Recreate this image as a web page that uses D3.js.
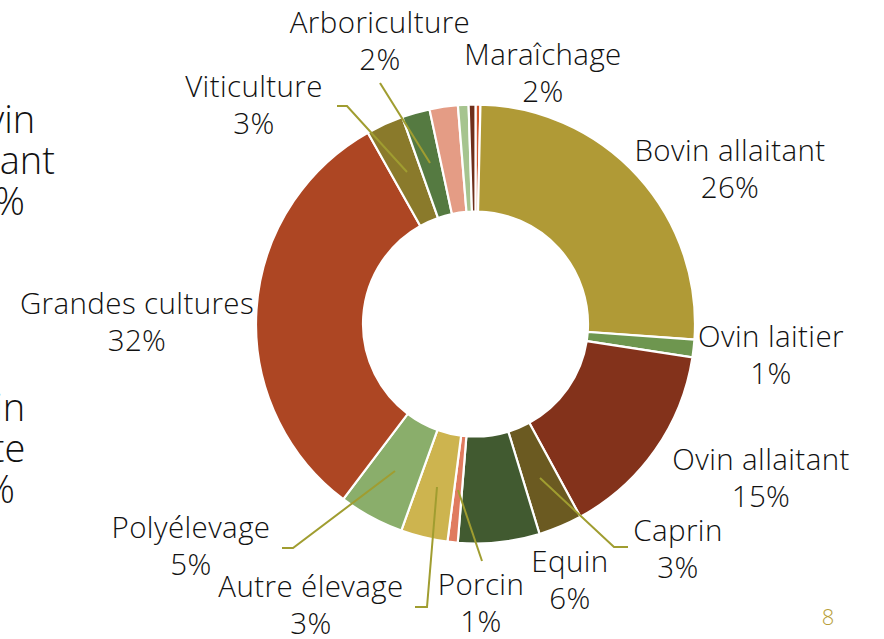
<!DOCTYPE html>
<html>
<head>
<meta charset="utf-8">
<script src="https://cdn.jsdelivr.net/npm/d3@7"></script>
<style>
  html, body { margin: 0; padding: 0; background: #fff; }
  svg { display: block; }
  text { font-family: "Open Sans", "Noto Sans", sans-serif; font-weight: 300; fill: #111; }
</style>
</head>
<body>
<svg id="chart" width="884" height="639"></svg>
<script>
// slices, clockwise from 12 o'clock (the tiny unlabelled ones carry no label)
const categories = ["Autres (a)", "Bovin allaitant", "Ovin laitier", "Ovin allaitant", "Caprin", "Equin",
  "Porcin", "Autre élevage", "Polyélevage", "Grandes cultures", "Viticulture",
  "Arboriculture", "Maraîchage", "Autres (b)", "Autres (c)"];
const values = [0.36, 25.77, 1.3, 14.64, 3.22, 6.0, 0.75, 3.45, 4.8, 31.55, 2.75, 2.05, 2.08, 0.78, 0.5];
const colors = ["#D2552B", "#B09A36", "#6E964F", "#83321B", "#6B5A21", "#415A30", "#E07B5F",
  "#CDB44F", "#8AAE6B", "#AD4623", "#8A7A2B", "#557A41", "#E49C85", "#A6C48F", "#6E2F1B"];

// cut-off labels of the previous chart at the left edge
const ghostLabels = [["Bovin", "allaitant", "19%"], ["Bovin", "mixte", "12%"]];

const svg = d3.select("#chart");
const cx = 475.5, cy = 324, rOuter = 219.5, rInner = 112.5;

const total = d3.sum(values);
const data = categories.map((c, i) => ({ name: c, value: values[i], color: colors[i] }));

const pie = d3.pie().sort(null).value(d => d.value);
const arc = d3.arc().innerRadius(rInner).outerRadius(rOuter);

const g = svg.append("g").attr("transform", `translate(${cx},${cy})`);
g.selectAll("path")
  .data(pie(data))
  .enter().append("path")
  .attr("d", arc)
  .attr("fill", d => d.data.color)
  .attr("stroke", "#fff")
  .attr("stroke-width", 2.2);

// label placement (page coords): text centre x, first baseline y, leader polyline
const labelPos = {
  "Bovin allaitant": { x: 730, y: 161 },
  "Ovin laitier": { x: 771, y: 347 },
  "Ovin allaitant": { x: 761, y: 470 },
  "Caprin": { x: 678, y: 541, line: [[540, 478], [614, 547], [628, 547]] },
  "Equin": { x: 570, y: 572 },
  "Porcin": { x: 481, y: 595, line: [[458, 490], [482, 561]] },
  "Autre élevage": { x: 311, y: 597, line: [[437, 487], [427, 607], [415, 607]] },
  "Polyélevage": { x: 191, y: 538, line: [[395, 471], [293, 548], [282, 548]] },
  "Grandes cultures": { x: 137, y: 314 },
  "Viticulture": { x: 254, y: 97, line: [[407, 172], [347, 106], [337, 106]] },
  "Arboriculture": { x: 380, y: 33, line: [[430, 163], [380, 83]] },
  "Maraîchage": { x: 543, y: 65 }
};
const lineH = 36.5;

const leaders = data.filter(d => labelPos[d.name] && labelPos[d.name].line);
svg.selectAll("polyline.leader")
  .data(leaders)
  .enter().append("polyline")
  .attr("class", "leader")
  .attr("points", d => labelPos[d.name].line.map(p => p.join(",")).join(" "))
  .attr("fill", "none")
  .attr("stroke", "#A09D30")
  .attr("stroke-width", 2);

const labelled = data.filter(d => labelPos[d.name]);
const lab = svg.selectAll("text.lab")
  .data(labelled)
  .enter().append("text")
  .attr("class", "lab")
  .attr("text-anchor", "middle")
  .attr("font-size", 29.5)
  .attr("letter-spacing", 0.4);
lab.append("tspan")
  .attr("x", d => labelPos[d.name].x)
  .attr("y", d => labelPos[d.name].y)
  .text(d => d.name);
lab.append("tspan")
  .attr("x", d => labelPos[d.name].x)
  .attr("y", d => labelPos[d.name].y + lineH)
  .text(d => Math.round(d.value / total * 100) + "%");

// previous chart's labels, mostly off the page
const ghostPos = [{ x: -12, y: 133 }, { x: -22, y: 421 }];
ghostLabels.forEach((lines, i) => {
  const t = svg.append("text").attr("text-anchor", "middle").attr("font-size", 38);
  lines.forEach((s, j) => {
    t.append("tspan").attr("x", ghostPos[i].x).attr("y", ghostPos[i].y + j * 41).text(s);
  });
});

// slide number
svg.append("text")
  .attr("x", 828).attr("y", 625)
  .attr("text-anchor", "middle")
  .attr("font-size", 22)
  .style("fill", "#B89F3A")
  .text("8");
</script>
</body>
</html>
